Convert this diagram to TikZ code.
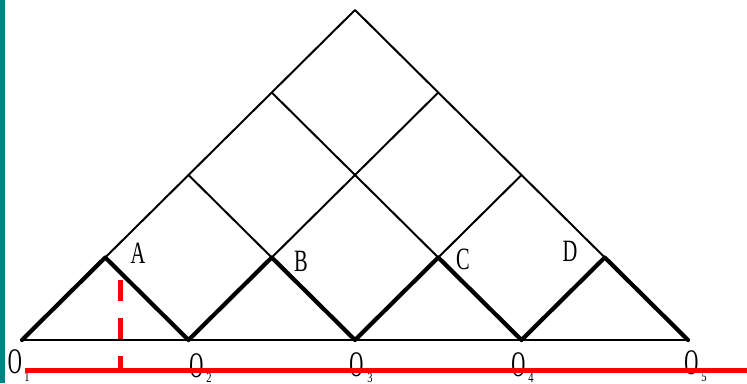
\documentclass[tikz,border=0pt]{standalone}
\usepackage{fontspec}
\setmainfont{Liberation Serif}
\definecolor{barteal}{HTML}{008080}
\definecolor{pured}{HTML}{FF0000}
\begin{document}
\begin{tikzpicture}[x=1pt,y=-1pt,
  thinline/.style={line width=2pt, line cap=round, line join=round, black},
  thickline/.style={line width=4.2pt, line cap=round, line join=round, black},
  letter/.style={font=\fontsize{31}{31}\selectfont, xscale=0.66, inner sep=0pt},
  olabel/.style={font=\fontsize{36}{36}\selectfont, xscale=0.54, inner sep=0pt},
  osub/.style={font=\fontsize{14}{14}\selectfont, xscale=0.75, inner sep=0pt},
  redline/.style={line width=5pt, pured}]
\useasboundingbox (0,0) rectangle (747,383);
\fill[white] (0,0) rectangle (747,383);
\fill[barteal] (0,0) rectangle (5,383);
% lattice points
\coordinate (O1) at (22,340);
\coordinate (O2) at (188.5,340);
\coordinate (O3) at (355,340);
\coordinate (O4) at (521.5,340);
\coordinate (O5) at (688,340);
\coordinate (A) at (105.25,257.5);
\coordinate (B) at (271.75,257.5);
\coordinate (C) at (438.25,257.5);
\coordinate (D) at (604.75,257.5);
\coordinate (P22) at (188.5,175);
\coordinate (P62) at (521.5,175);
\coordinate (P33) at (271.75,92.5);
\coordinate (P53) at (438.25,92.5);
\coordinate (Apex) at (355,10);
% thin lines
\draw[thinline] (O1) -- (O5);
\draw[thinline] (A) -- (P22) -- (P33) -- (Apex) -- (P53) -- (P62) -- (D);
\draw[thinline] (B) -- (P22);
\draw[thinline] (C) -- (P33);
\draw[thinline] (B) -- (P53);
\draw[thinline] (C) -- (P62);
% thick zigzag
\draw[thickline] (O1) -- (A) -- (O2) -- (B) -- (O3) -- (C) -- (O4) -- (D) -- (O5);
% point labels
\node[letter] (lA) at (138,253) {A};
\node[letter] (lB) at (301,261) {B};
\node[letter] (lC) at (463,259) {C};
\node[letter] (lD) at (570,251) {D};
% O labels
\node[olabel] (tO1) at (15,362) {O};
\node[osub] (s1) at (27,377) {1};
\node[olabel] (tO2) at (196.5,366) {O};
\node[osub] (s2) at (209,377.5) {2};
\node[olabel] (tO3) at (356.5,365) {O};
\node[osub] (s3) at (370,377.5) {3};
\node[olabel] (tO4) at (518.5,365) {O};
\node[osub] (s4) at (531,377.5) {4};
\node[olabel] (tO5) at (691.5,363) {O};
\node[osub] (s5) at (704,377) {5};
% red lines
\coordinate (RL) at (25,370.5);
\coordinate (RR) at (747,370.5);
\coordinate (DT) at (120,280);
\coordinate (DB) at (120,370.5);
\draw[redline] (RL) -- (RR);
\draw[redline, dash pattern=on 21pt off 17pt] (DT) -- (DB);
\end{tikzpicture}
\end{document}
